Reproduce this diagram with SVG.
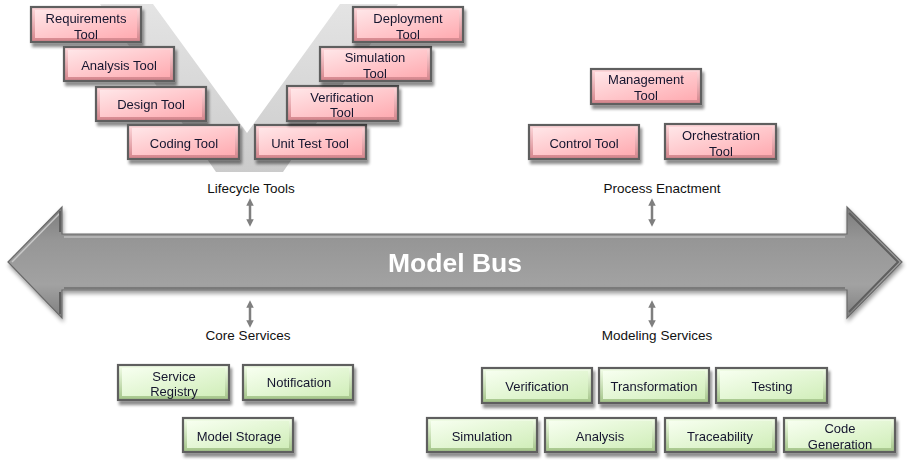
<svg xmlns="http://www.w3.org/2000/svg" width="910" height="465" viewBox="0 0 910 465">
<defs>
<linearGradient id="pkEdge" x1="0" y1="0" x2="0" y2="1"><stop offset="0" stop-color="#ffd9dc"/><stop offset="1" stop-color="#d4848b"/></linearGradient>
<linearGradient id="pkFace" x1="0" y1="0" x2="1" y2="1"><stop offset="0" stop-color="#ffe6e8"/><stop offset="1" stop-color="#ffabb1"/></linearGradient>
<linearGradient id="gnEdge" x1="0" y1="0" x2="0" y2="1"><stop offset="0" stop-color="#f4ffea"/><stop offset="1" stop-color="#a3c488"/></linearGradient>
<linearGradient id="gnFace" x1="0" y1="0" x2="1" y2="1"><stop offset="0" stop-color="#f7fff0"/><stop offset="1" stop-color="#d1eeba"/></linearGradient>
<linearGradient id="busG" x1="0" y1="0" x2="0" y2="1"><stop offset="0" stop-color="#7c7c7c"/><stop offset="0.3" stop-color="#969696"/><stop offset="0.7" stop-color="#a2a2a2"/><stop offset="1" stop-color="#7e7e7e"/></linearGradient>
<linearGradient id="vG" x1="0" y1="0" x2="0" y2="1"><stop offset="0" stop-color="#e4e4e4"/><stop offset="1" stop-color="#cbcbcb"/></linearGradient>
<filter id="sh" x="-10%" y="-20%" width="125%" height="160%"><feGaussianBlur in="SourceAlpha" stdDeviation="1.8"/><feOffset dx="2" dy="4" result="b"/><feComponentTransfer><feFuncA type="linear" slope="0.45"/></feComponentTransfer><feMerge><feMergeNode/><feMergeNode in="SourceGraphic"/></feMerge></filter>
<filter id="bsh" x="-5%" y="-20%" width="110%" height="150%"><feGaussianBlur in="SourceAlpha" stdDeviation="2"/><feOffset dx="1" dy="3"/><feComponentTransfer><feFuncA type="linear" slope="0.4"/></feComponentTransfer><feMerge><feMergeNode/><feMergeNode in="SourceGraphic"/></feMerge></filter>
<marker id="ah" viewBox="0 0 10 10" refX="5" refY="5" markerWidth="3" markerHeight="3" orient="auto-start-reverse"><path d="M0,0 L10,5 L0,10 z" fill="#7f7f7f"/></marker>
<style>
.pe{fill:url(#pkEdge);stroke:#5e5e5e;stroke-width:2.2}
.pf{fill:url(#pkFace)}
.ge{fill:url(#gnEdge);stroke:#5e5e5e;stroke-width:2.2}
.gf{fill:url(#gnFace)}
.bx{filter:url(#sh)}
.t{font-family:"Liberation Sans",Arial,sans-serif;font-size:13px;fill:#14142e;text-anchor:middle}
.lb{font-family:"Liberation Sans",Arial,sans-serif;font-size:13.5px;fill:#111;text-anchor:middle}
.cn{stroke:#7f7f7f;stroke-width:2.5;fill:none;marker-start:url(#ah);marker-end:url(#ah)}
</style>
</defs>
<rect width="910" height="465" fill="#ffffff"/>

<polygon id="vshape" points="100,4 153,4 247,133 340,4 398,4 283,172 216,172" fill="url(#vG)"/>

<g id="modelbus" filter="url(#bsh)">
<polygon points="8,262 62,207 62,234 847,234 847,207 902,262 847,318 847,290 62,290 62,318" fill="url(#busG)" stroke="#6a6a6a" stroke-width="1.2"/>
<line x1="64" y1="237" x2="845" y2="237" stroke="#c8c8c8" stroke-width="1.5" opacity="0.8"/>
<line x1="64" y1="288" x2="845" y2="288" stroke="#6e6e6e" stroke-width="1.5"/>
<polyline points="12,262 60,213" stroke="#c8c8c8" stroke-width="1.5" fill="none"/>
<polyline points="849,213 898,262 849,312" stroke="#5e5e5e" stroke-width="2" fill="none"/>
<line x1="60" y1="211" x2="60" y2="232" stroke="#5e5e5e" stroke-width="2"/>
<line x1="60" y1="292" x2="60" y2="314" stroke="#5e5e5e" stroke-width="2"/>
<text x="455" y="272" font-family="'Liberation Sans',Arial,sans-serif" font-size="26.5" font-weight="bold" fill="#ffffff" text-anchor="middle">Model Bus</text>
</g>

<g id="connectors">
<line class="cn" x1="250" y1="202" x2="250" y2="223"/>
<line class="cn" x1="250" y1="304" x2="250" y2="324"/>
<line class="cn" x1="652" y1="202" x2="652" y2="223"/>
<line class="cn" x1="652" y1="304" x2="652" y2="324"/>
</g>

<g id="labels">
<text class="lb" x="251" y="193">Lifecycle Tools</text>
<text class="lb" x="662" y="193">Process Enactment</text>
<text class="lb" x="248" y="340">Core Services</text>
<text class="lb" x="657" y="340">Modeling Services</text>
</g>

<g id="requirements-tool" class="bx"><rect class="pe" x="31" y="7" width="110" height="35"/><rect class="pf" x="35" y="10" width="102" height="28"/><text class="t" x="86" y="23">Requirements</text><text class="t" x="86" y="39">Tool</text></g>
<g id="analysis-tool" class="bx"><rect class="pe" x="64" y="47" width="110" height="34"/><rect class="pf" x="68" y="50" width="102" height="27"/><text class="t" x="119" y="70">Analysis Tool</text></g>
<g id="design-tool" class="bx"><rect class="pe" x="96" y="87" width="110" height="34"/><rect class="pf" x="100" y="90" width="102" height="27"/><text class="t" x="151" y="109">Design Tool</text></g>
<g id="coding-tool" class="bx"><rect class="pe" x="128" y="125" width="111" height="34"/><rect class="pf" x="132" y="128" width="103" height="27"/><text class="t" x="184" y="148">Coding Tool</text></g>
<g id="unit-test-tool" class="bx"><rect class="pe" x="255" y="125" width="111" height="34"/><rect class="pf" x="259" y="128" width="103" height="27"/><text class="t" x="310" y="148">Unit Test Tool</text></g>
<g id="verification-tool" class="bx"><rect class="pe" x="287" y="86" width="111" height="35"/><rect class="pf" x="291" y="89" width="103" height="28"/><text class="t" x="342" y="102">Verification</text><text class="t" x="342" y="117">Tool</text></g>
<g id="simulation-tool" class="bx"><rect class="pe" x="320" y="47" width="111" height="34"/><rect class="pf" x="324" y="50" width="103" height="27"/><text class="t" x="375" y="62">Simulation</text><text class="t" x="375" y="78">Tool</text></g>
<g id="deployment-tool" class="bx"><rect class="pe" x="353" y="7" width="110" height="35"/><rect class="pf" x="357" y="10" width="102" height="28"/><text class="t" x="408" y="23">Deployment</text><text class="t" x="408" y="39">Tool</text></g>

<g id="management-tool" class="bx"><rect class="pe" x="591" y="69" width="110" height="35"/><rect class="pf" x="595" y="72" width="102" height="28"/><text class="t" x="646" y="84">Management</text><text class="t" x="646" y="100">Tool</text></g>
<g id="control-tool" class="bx"><rect class="pe" x="529" y="125" width="110" height="34"/><rect class="pf" x="533" y="128" width="102" height="27"/><text class="t" x="584" y="148">Control Tool</text></g>
<g id="orchestration-tool" class="bx"><rect class="pe" x="665" y="124" width="111" height="35"/><rect class="pf" x="669" y="127" width="103" height="28"/><text class="t" x="721" y="140">Orchestration</text><text class="t" x="721" y="156">Tool</text></g>

<g id="service-registry" class="bx"><rect class="ge" x="118" y="365" width="111" height="35"/><rect class="gf" x="122" y="368" width="103" height="28"/><text class="t" x="174" y="381">Service</text><text class="t" x="174" y="396">Registry</text></g>
<g id="notification" class="bx"><rect class="ge" x="243" y="365" width="110" height="35"/><rect class="gf" x="247" y="368" width="102" height="28"/><text class="t" x="299" y="387">Notification</text></g>
<g id="model-storage" class="bx"><rect class="ge" x="183" y="418" width="110" height="34"/><rect class="gf" x="187" y="421" width="102" height="27"/><text class="t" x="239" y="441">Model Storage</text></g>

<g id="verification" class="bx"><rect class="ge" x="482" y="368" width="110" height="35"/><rect class="gf" x="486" y="371" width="102" height="28"/><text class="t" x="537" y="391">Verification</text></g>
<g id="transformation" class="bx"><rect class="ge" x="599" y="368" width="110" height="35"/><rect class="gf" x="603" y="371" width="102" height="28"/><text class="t" x="654" y="391">Transformation</text></g>
<g id="testing" class="bx"><rect class="ge" x="716" y="368" width="111" height="35"/><rect class="gf" x="720" y="371" width="103" height="28"/><text class="t" x="772" y="391">Testing</text></g>
<g id="simulation" class="bx"><rect class="ge" x="427" y="418" width="110" height="34"/><rect class="gf" x="431" y="421" width="102" height="27"/><text class="t" x="482" y="441">Simulation</text></g>
<g id="analysis" class="bx"><rect class="ge" x="545" y="418" width="111" height="34"/><rect class="gf" x="549" y="421" width="103" height="27"/><text class="t" x="600" y="441">Analysis</text></g>
<g id="traceability" class="bx"><rect class="ge" x="665" y="418" width="111" height="34"/><rect class="gf" x="669" y="421" width="103" height="27"/><text class="t" x="720" y="441">Traceability</text></g>
<g id="code-generation" class="bx"><rect class="ge" x="784" y="418" width="111" height="34"/><rect class="gf" x="788" y="421" width="103" height="27"/><text class="t" x="840" y="433">Code</text><text class="t" x="840" y="449">Generation</text></g>
</svg>
